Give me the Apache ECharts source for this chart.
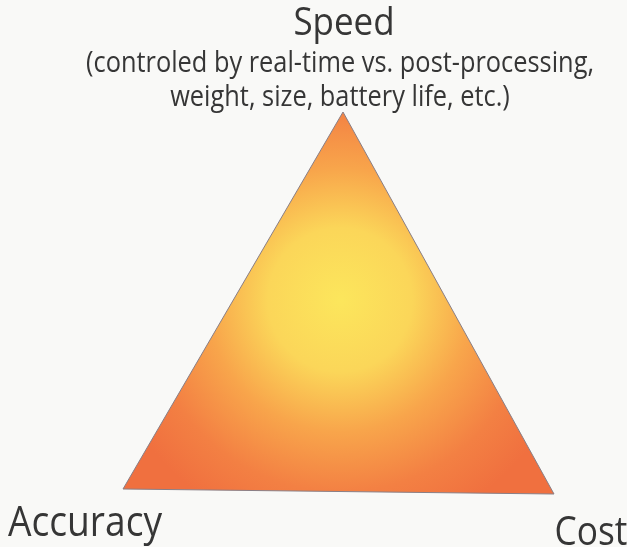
<!DOCTYPE html>
<html>
<head>
<meta charset="utf-8">
<script src="https://cdn.jsdelivr.net/npm/echarts@6/dist/echarts.min.js"></script>
<style>
  html, body { margin: 0; padding: 0; background: #f9f9f7; }
  #main { width: 627px; height: 547px; }
</style>
</head>
<body>
<div id="main"></div>
<script>
// corners of the triangle (x, y in picture units, y downwards)
var cornerNames = ['Speed', 'Accuracy', 'Cost'];
var cornerX = [343, 123, 554];
var cornerY = [112, 489, 494];

// label texts
var titleText = 'Speed';
var noteLines = ['(controled by real-time vs. post-processing,', 'weight, size, battery life, etc.)'];

var myChart = echarts.init(document.getElementById('main'), null, { renderer: 'canvas' });

var points = cornerX.map(function (x, i) { return [x, cornerY[i]]; });

function label(text, x, y, size, sx) {
  return {
    type: 'text', x: x, y: y, scaleX: sx,
    style: {
      text: text, font: size + 'px "Open Sans"', fill: '#363636',
      align: 'center', verticalAlign: 'middle'
    }
  };
}

var option = {
  backgroundColor: '#f9f9f7',
  animation: false,
  grid: { left: 0, right: 0, top: 0, bottom: 0 },
  xAxis: { type: 'value', min: 0, max: 627, show: false },
  yAxis: { type: 'value', min: 0, max: 547, inverse: true, show: false },
  series: [{
    type: 'custom',
    data: [0],
    renderItem: function (params, api) {
      var pts = points.map(function (p) { return api.coord(p); });
      var c = api.coord([340, 300]);
      return {
        type: 'polygon',
        shape: { points: pts },
        style: {
          fill: new echarts.graphic.RadialGradient(c[0], c[1], 240, [
            { offset: 0, color: '#fce65c' },
            { offset: 0.3, color: '#fbd659' },
            { offset: 0.55, color: '#f8a54b' },
            { offset: 0.8, color: '#f38043' },
            { offset: 1, color: '#f0703f' }
          ], true),
          stroke: '#8a7f86',
          lineWidth: 1
        }
      };
    }
  }],
  graphic: [
    label(titleText, 344, 24, 38, 0.92),
    label(noteLines[0], 340, 64, 29, 0.875),
    label(noteLines[1], 340, 98, 29, 0.875),
    label(cornerNames[1], 85, 524, 42, 0.885),
    label(cornerNames[2], 591, 533, 41, 0.86)
  ]
};

myChart.setOption(option);
</script>
</body>
</html>
